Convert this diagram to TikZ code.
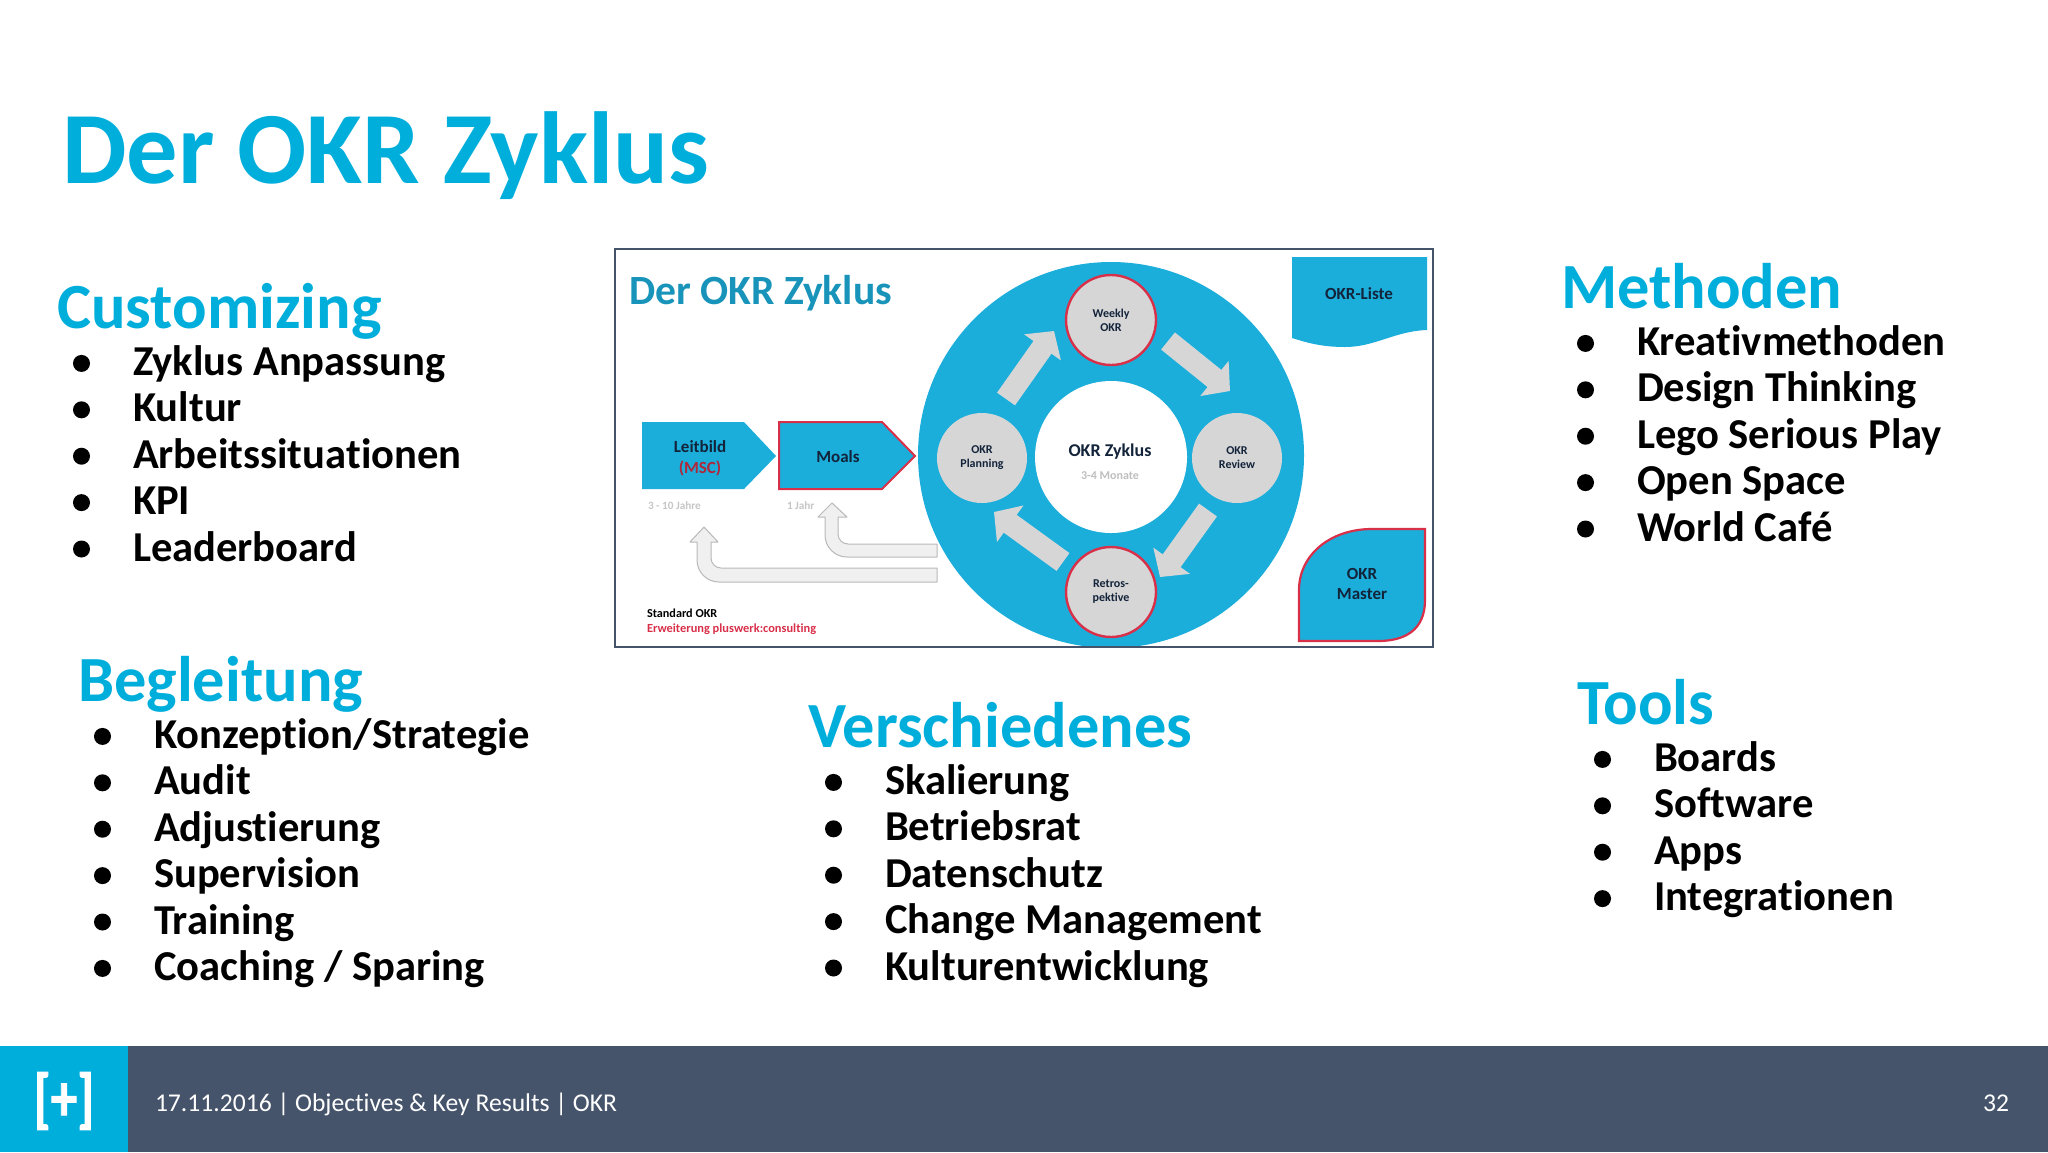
\documentclass[tikz,border=0pt]{standalone}
\usepackage{fontspec}
\usetikzlibrary{arrows.meta,calc}
\setmainfont{Carlito}[Ligatures=NoCommon]
\newfontfamily\logofont{Carlito}[BoldFeatures={FakeBold=1.5}]
\definecolor{okrcyan}{HTML}{00AEDC}
\definecolor{okrblue}{HTML}{1CAEDB}
\definecolor{okrslate}{HTML}{46546B}
\definecolor{okrred}{HTML}{D9304A}
\definecolor{okrgrey}{HTML}{D6D6D6}
\definecolor{okrnavy}{HTML}{12233A}
\newcommand{\fs}[1]{\fontsize{#1}{#1}\selectfont}
\tikzset{
 x=0.5pt,y=-0.5pt,
 every node/.style={inner sep=0pt,outer sep=0pt},
 titletext/.style={anchor=base west,text=okrcyan,font=\fs{51.2}\bfseries},
 headtext/.style={anchor=base west,text=okrcyan,font=\fs{32.2}\bfseries},
 itemtext/.style={anchor=base west,text=black,font=\fs{21.3}\bfseries},
 bulletmark/.style={circle,fill=black,minimum size=8.5pt},
 disc/.style={circle,fill=okrgrey,minimum size=45pt},
 redring/.style={disc,draw=okrred,line width=1.2pt},
 cyclearrow/.style={draw=okrgrey,line width=11pt,-{Triangle[length=10pt,width=22pt,fill=okrgrey]}},
 smalltext/.style={text=okrnavy,font=\fs{6}\bfseries,align=center},
 bluelabel/.style={text=okrnavy,font=\fs{8.5}\bfseries,align=center},
 returnarrow/.style={fill=gray!12,draw=gray!55,line width=0.5pt,line join=round},
 pentagon/.style={fill=okrblue},
}
\begin{document}
\begin{tikzpicture}
\useasboundingbox (0,0) rectangle (2048,1152);
\fill[white] (0,0) rectangle (2048,1152);
% footer
\fill[okrslate] (0,1046) rectangle (2048,1152);
\fill[okrcyan] (0,1046) rectangle (128,1152);
\node[anchor=center,text=white,font=\fs{33}\logofont\bfseries,xscale=0.8] (logo) at (64,1101) {[+]};
\node[anchor=base west,text=white,font=\fs{12.8}] (foot) at (155,1111) {17.11.2016 | Objectives \& Key Results | OKR};
\node[anchor=base east,text=white,font=\fs{12.8}] (page) at (2009,1111) {32};
% title
\node[titletext] (title) at (62,183) {Der OKR Zyklus};
% lists
\newcommand{\okrlist}[5]{% name, heading x, heading base, item x, items
  \node[headtext] (#1h) at (#2,#3) {#1};
  \foreach \t [count=\i] in {#5} {
    \node[itemtext] (#1i\i) at (#4,#3+1+46.4*\i) {\t};
    \node[bulletmark] (#1b\i) at (#4-51.5,#3+46.4*\i-11) {};
  }
}
\okrlist{Customizing}{57}{328}{133}{Zyklus Anpassung,Kultur,Arbeitssituationen,KPI,Leaderboard}
\okrlist{Begleitung}{78}{701}{154}{Konzeption/Strategie,Audit,Adjustierung,Supervision,Training,Coaching / Sparing}
\okrlist{Verschiedenes}{808}{747}{885}{Skalierung,Betriebsrat,Datenschutz,Change Management,Kulturentwicklung}
\okrlist{Methoden}{1561}{308}{1637}{Kreativmethoden,Design Thinking,Lego Serious Play,Open Space,World Café}
\okrlist{Tools}{1577}{724}{1654}{Boards,Software,Apps,Integrationen}
% embedded figure
\begin{scope}
\clip (615,249) rectangle (1433,647);
\fill[okrblue] (1111,455) circle (96.5pt);
\end{scope}
\fill[white] (1111,457) circle (38pt);
\node[text=okrblue!85!black,font=\fs{20.8}\bfseries,anchor=base west] (ftitle) at (629,304) {Der OKR Zyklus};
\node[redring] (weekly) at (1111,320) {};
\node[disc] (planning) at (982,458) {};
\node[disc] (review) at (1237,458) {};
\node[redring] (retro) at (1111,592) {};
\node[smalltext] at (weekly) {Weekly\\[1pt]OKR};
\node[smalltext] at (planning) {OKR\\[1pt]Planning};
\node[smalltext] at (review) {OKR\\[1pt]Review};
\node[smalltext] at (retro) {Retros-\\[1pt]pektive};
\node[text=okrnavy,font=\fs{9}\bfseries] (center) at (1110,452) {OKR Zyklus};
\node[text=gray!50,font=\fs{6}\bfseries] (months) at (1110,476) {3-4 Monate};
\coordinate (a1s) at (1006,399); \coordinate (a1e) at (1054,331);
\coordinate (a2s) at (1168,341); \coordinate (a2e) at (1230,391);
\coordinate (a3s) at (1208,510); \coordinate (a3e) at (1160,577);
\coordinate (a4s) at (1063,562); \coordinate (a4e) at (994,512);
\draw[cyclearrow] (a1s) -- (a1e);
\draw[cyclearrow] (a2s) -- (a2e);
\draw[cyclearrow] (a3s) -- (a3e);
\draw[cyclearrow] (a4s) -- (a4e);
% pentagons
\fill[pentagon] (642,422) -- (744,422) -- (776,456) -- (744,489) -- (642,489) -- cycle;
\draw[pentagon,draw=okrred,line width=1pt] (779,422) -- (882,422) -- (915,456) -- (882,489) -- (779,489) -- cycle;
\node[bluelabel] (leitbild) at (700,447) {Leitbild};
\node[text=okrred!80!black,font=\fs{8.5}\bfseries] (msc) at (700,468) {(MSC)};
\node[bluelabel] (moals) at (838,457) {Moals};
\node[anchor=base west,text=gray!45,font=\fs{5.6}\bfseries] (y1) at (648,509) {3 - 10 Jahre};
\node[anchor=base west,text=gray!45,font=\fs{5.6}\bfseries] (y2) at (787,509) {1 Jahr};
% return arrows
\draw[returnarrow] (937,544) [rounded corners=5pt] -- (838,544) [sharp corners] -- (838,517) -- (847,517) -- (832,503) -- (818,517) -- (825,517) [rounded corners=11pt] -- (825,557) [sharp corners] -- (937,557) -- cycle;
\draw[returnarrow] (937,568) [rounded corners=5pt] -- (711,568) [sharp corners] -- (711,542) -- (718,542) -- (704,527) -- (690,542) -- (697,542) [rounded corners=11pt] -- (697,582) [sharp corners] -- (937,582) -- cycle;
\node[anchor=base west,text=black,font=\fs{6.1}\bfseries] (std) at (647,617) {Standard OKR};
\node[anchor=base west,text=okrred,font=\fs{6.2}\bfseries] (ext) at (647,632) {Erweiterung pluswerk:consulting};
% OKR-Liste
\fill[okrblue] (1292,257) -- (1427,257) -- (1427,330) .. controls (1395,331) and (1375,347) .. (1345,347) .. controls (1320,347) and (1305,342) .. (1292,338) -- cycle;
\node[bluelabel] (liste) at (1359,294) {OKR-Liste};
% OKR Master
\draw[fill=okrblue,draw=okrred,line width=1.1pt] (1425,529) -- (1372,529) .. controls (1330,529) and (1299,555) .. (1299,590) -- (1299,641) -- (1378,641) .. controls (1405,641) and (1425,630) .. (1425,600) -- cycle;
\node[bluelabel] (master) at (1362,584) {OKR\\[1.5pt]Master};
% frame
\draw[okrslate,line width=0.7pt] (615,249) rectangle (1433,647);
\end{tikzpicture}
\end{document}
